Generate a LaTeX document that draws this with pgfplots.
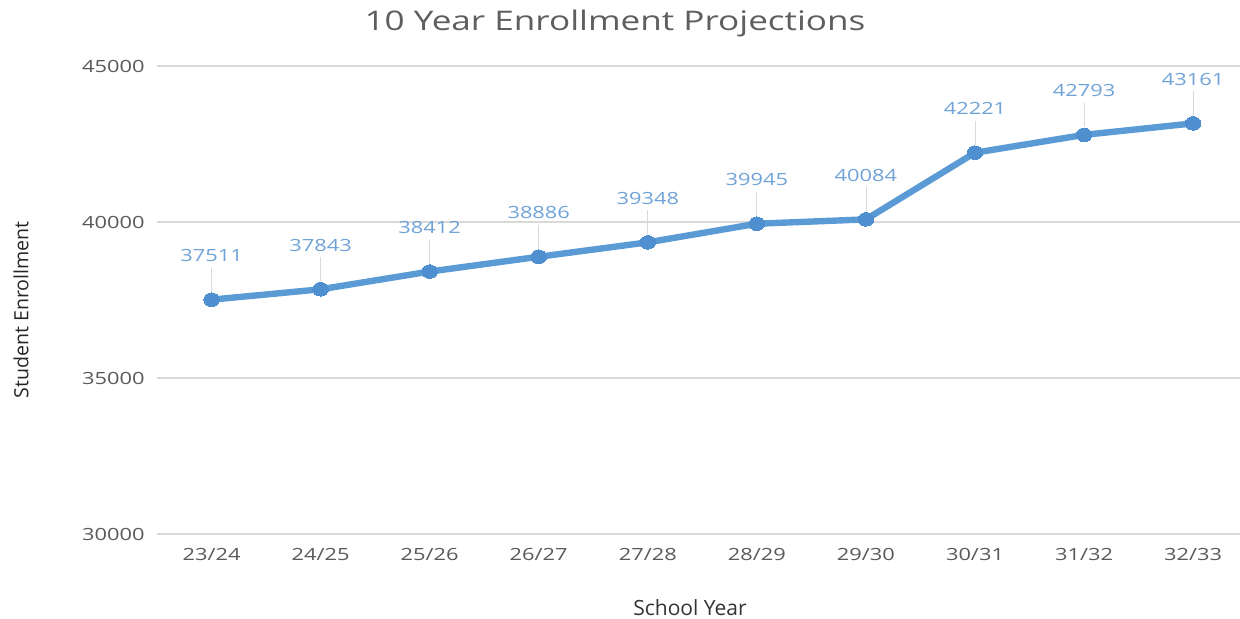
\documentclass[border=0pt]{standalone}
\usepackage{pgfplots}
\pgfplotsset{compat=1.18}
\usepackage{fontspec}
\setmainfont{Open Sans}
\newfontfamily\wide{Open Sans}[FakeStretch=1.3]

\definecolor{serieblue}{HTML}{5B9BD5}
\definecolor{markblue}{HTML}{4F8FCF}
\definecolor{labelblue}{HTML}{6FA3D8}
\definecolor{gridgray}{HTML}{D9D9D9}
\definecolor{ticktext}{HTML}{595959}
\definecolor{titletext}{HTML}{5E5E5E}

\begin{document}
\begin{tikzpicture}
  % canvas: 1 px of the reference = 0.5pt
  \useasboundingbox (0,0) rectangle (620pt,309pt);

  \begin{axis}[
      scale only axis,
      width=541.5pt, height=234pt,
      at={(78.5pt,42pt)}, anchor=south west,
      xmin=-0.5, xmax=9.43,
      ymin=30000, ymax=45000,
      xtick={0,...,9},
      xticklabels={23/24,24/25,25/26,26/27,27/28,28/29,29/30,30/31,31/32,32/33},
      ytick={30000,35000,40000,45000},
      axis line style={draw=none},
      major tick length=0pt,
      ymajorgrids,
      grid style={gridgray, line width=0.8pt},
      yticklabel style={font=\wide\fontsize{8.4}{10}\selectfont, text=ticktext,
        anchor=east, inner sep=0pt, xshift=-6pt},
      xticklabel style={font=\wide\fontsize{8.4}{10}\selectfont, text=ticktext,
        anchor=north, inner sep=0pt, yshift=-7pt},
      /pgf/number format/assume math mode=true,
      /pgf/number format/1000 sep={},
      scaled y ticks=false,
      clip=false,
    ]
    \addplot[
      serieblue, line width=3.2pt,
      mark=*, mark size=3.4pt,
      mark options={fill=markblue, draw=markblue, line width=0pt, xscale=1.15},
      point meta=explicit symbolic,
      nodes near coords,
      every node near coord/.append style={
        font=\wide\fontsize{8.4}{10}\selectfont, text=labelblue,
        anchor=south, inner sep=0pt, yshift=19pt,
        append after command={
          ([yshift=-3pt]\tikzlastnode.south) edge[draw=gray!30, line width=0.4pt]
          ([yshift=-15pt]\tikzlastnode.south)}
      },
    ] table[meta=v] {
      x y v
      0 37511 37511
      1 37843 37843
      2 38412 38412
      3 38886 38886
      4 39348 39348
      5 39945 39945
      6 40084 40084
      7 42221 42221
      8 42793 42793
      9 43161 43161
    };
  \end{axis}

  \node[anchor=base, text=titletext, font=\wide\fontsize{13.5}{16}\selectfont]
    at (307.5pt,294pt) {10 Year Enrollment Projections};
  \node[rotate=90, anchor=center, text=black!85, font=\fontsize{9.8}{12}\selectfont]
    at (10.5pt,154pt) {Student Enrollment};
  \node[anchor=base, text=black!80, font=\fontsize{10.5}{12}\selectfont]
    at (345pt,1.5pt) {School Year};
\end{tikzpicture}
\end{document}
